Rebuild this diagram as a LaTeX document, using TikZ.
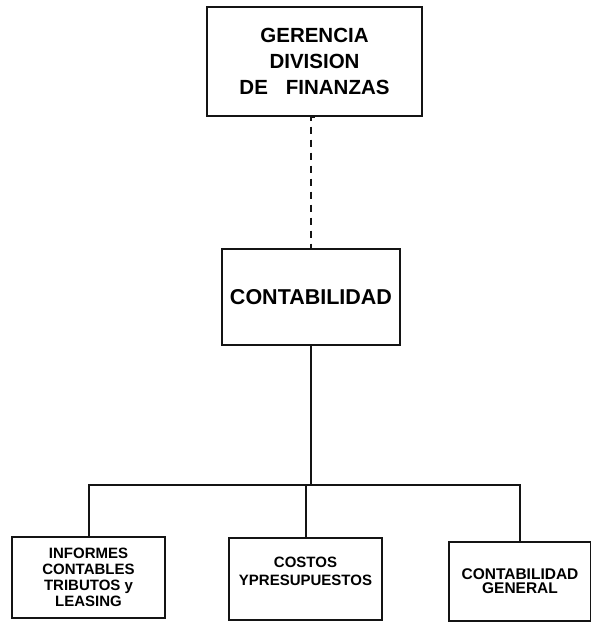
\documentclass[tikz,border=0pt]{standalone}
\usepackage{fontspec}
\setmainfont{Liberation Sans}
\usepackage{tikz}
\usetikzlibrary{positioning, calc}
\definecolor{inkdark}{RGB}{20,20,20}
\tikzset{
  topbox/.style={rectangle, draw=inkdark, line width=2pt,
    minimum width=215pt, minimum height=109pt, align=center,
    font=\fontsize{20.5}{26}\selectfont\bfseries},
  midbox/.style={rectangle, draw=inkdark, line width=2pt,
    minimum width=178pt, minimum height=96pt, align=center,
    font=\fontsize{21.5}{26}\selectfont\bfseries},
  unitbox/.style={rectangle, draw=inkdark, line width=2pt,
    minimum width=153pt, minimum height=81pt, align=center,
    font=\fontsize{15}{16}\selectfont\bfseries},
  line/.style={line width=2pt, color=inkdark},
  dashline/.style={line width=1.3pt, color=inkdark, dash pattern=on 7pt off 6pt}
}
\begin{document}
\begin{tikzpicture}[x=1pt, y=-1pt]
  \useasboundingbox (0,0) rectangle (590,624);

  % Gerencia and Contabilidad
  \node[topbox] (ger) at (314.5,61.5) {GERENCIA\\DIVISION\\DE\hspace{0.6em} FINANZAS};
  \node[midbox] (cont) at (311,297) {CONTABILIDAD};
  \draw[dashline] (ger.south) -- (ger.south -| cont.north) -- (cont.north);

  % Units
  \node[unitbox] (inf) at (88.5,577.5) {INFORMES\\CONTABLES\\TRIBUTOS y\\LEASING};
  \node[unitbox, minimum height=82pt, font=\fontsize{15}{18}\selectfont\bfseries] (cos) at (305.5,579) {COSTOS\\YPRESUPUESTOS\\[-2pt]};
  \node[unitbox, minimum width=142pt, minimum height=79pt, font=\fontsize{15.5}{14}\selectfont\bfseries] (gen) at (520,581.5) {CONTABILIDAD\\GENERAL};

  % Bus
  \coordinate (bus) at (311,485);
  \draw[line] (cont.south) -- (bus);
  \draw[line] (inf.north) |- (bus) -| (gen.north);
  \draw[line] (cos.north) -- (cos.north |- bus);
\end{tikzpicture}
\end{document}
